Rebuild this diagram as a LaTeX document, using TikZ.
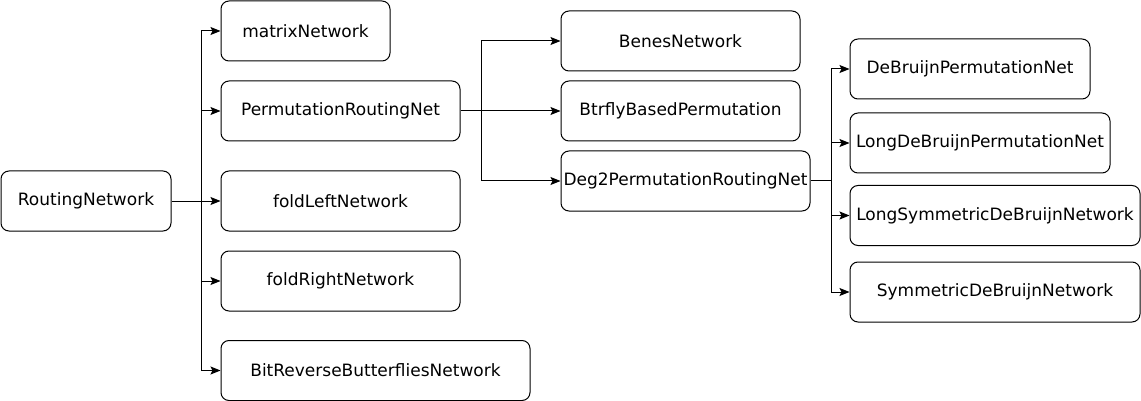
\documentclass[tikz,border=0pt]{standalone}
\usepackage{fontspec}
\setmainfont{DejaVu Sans}
\usepackage{tikz}
\usetikzlibrary{arrows.meta}

\begin{document}
\begin{tikzpicture}[
  x=1pt, y=-1pt,
  netbox/.style={draw, rounded corners=8pt, line width=1pt, align=center, inner sep=0pt, minimum height=60pt, font=\fontsize{17}{20}\selectfont},
  arr/.style={-{Stealth[length=10pt, width=8pt, inset=2pt]}, line width=1pt},
  lin/.style={line width=1pt}
]
\useasboundingbox (0,0) rectangle (1141,401);
% first level
\node[netbox, minimum width=170pt] (RN) at (86,201) {RoutingNetwork};
\node[netbox, minimum width=169pt] (MN) at (305.5,31) {matrixNetwork};
\node[netbox, minimum width=239pt] (PRN) at (340.5,111) {PermutationRoutingNet};
\node[netbox, minimum width=239pt] (FL) at (340.5,201) {foldLeftNetwork};
\node[netbox, minimum width=239pt] (FR) at (340.5,281) {foldRightNetwork};
\node[netbox, minimum width=309pt] (BRB) at (375.5,370.5) {BitReverseButterfliesNetwork};
% second level
\node[netbox, minimum width=239pt] (BN) at (680.5,41) {BenesNetwork};
\node[netbox, minimum width=239pt] (BBP) at (680.5,111) {BtrflyBasedPermutation};
\node[netbox, minimum width=249pt] (D2) at (685.5,181) {Deg2PermutationRoutingNet};
% third level
\node[netbox, minimum width=240pt] (DB) at (970,69) {DeBruijnPermutationNet};
\node[netbox, minimum width=260pt] (LDB) at (980,143) {LongDeBruijnPermutationNet};
\node[netbox, minimum width=290pt] (LSDB) at (995,215.5) {LongSymmetricDeBruijnNetwork};
\node[netbox, minimum width=290pt] (SDB) at (995,292) {SymmetricDeBruijnNetwork};

\coordinate (j1) at (201,201);
\coordinate (j2) at (481,111);
\coordinate (j3) at (831,181);

\draw[arr] (RN) -- (FL);
\draw[arr] (j1) |- (MN.west);
\draw[arr] (j1) |- (PRN.west);
\draw[arr] (j1) |- (FR.west);
\draw[arr] (j1) |- (BRB.west);

\draw[arr] (PRN) -- (BBP);
\draw[arr] (j2) |- (BN.west);
\draw[arr] (j2) |- (D2.west);

\draw[lin] (D2.east) -- (j3);
\draw[arr] (j3) |- (DB.west);
\draw[arr] (j3) |- (LDB.west);
\draw[arr] (j3) |- (LSDB.west);
\draw[arr] (j3) |- (SDB.west);
\end{tikzpicture}
\end{document}
